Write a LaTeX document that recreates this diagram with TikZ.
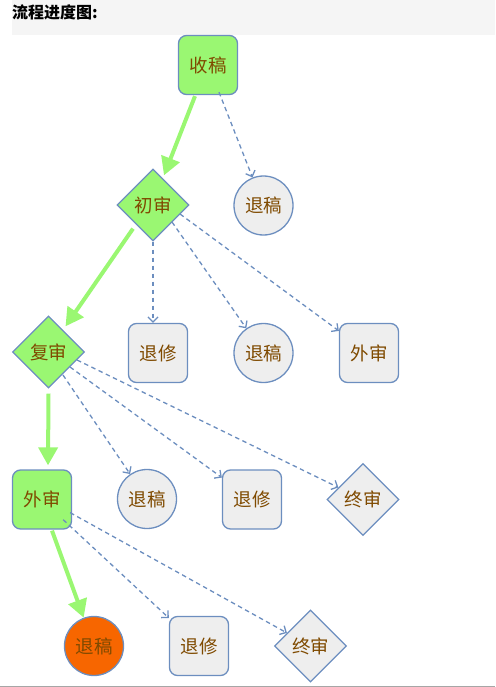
\documentclass[tikz,border=0pt]{standalone}
\usepackage{fontspec}
\newfontfamily\cjk{Noto Sans CJK SC}
\usetikzlibrary{shapes.geometric,arrows.meta,calc}
\definecolor{gfill}{HTML}{9AF772}
\definecolor{bstroke}{HTML}{6C8EBF}
\definecolor{grayfill}{HTML}{EEEEEE}
\definecolor{ofill}{HTML}{F76600}
\definecolor{tcol}{HTML}{7F4A00}
\definecolor{hdr}{HTML}{F5F5F5}
\begin{document}
\begin{tikzpicture}[x=1pt,y=-1pt,
  base/.style={draw=bstroke,line width=1.3pt,text=tcol,font=\cjk\fontsize{18.5}{18.5}\selectfont,inner sep=0pt},
  gbox/.style={base,fill=gfill,rounded corners=8pt,minimum width=59pt,minimum height=59pt},
  xbox/.style={base,fill=grayfill,rounded corners=8pt,minimum width=59pt,minimum height=59pt},
  circ/.style={base,fill=grayfill,circle,minimum size=59pt},
  ocirc/.style={base,fill=ofill,circle,minimum size=59pt},
  gdia/.style={base,fill=gfill,diamond,minimum width=72pt,minimum height=72pt},
  xdia/.style={base,fill=grayfill,diamond,minimum width=72pt,minimum height=72pt},
  garrow/.style={draw=gfill,line width=4pt,-{Triangle[length=18pt,width=19pt]}},
  darrow/.style={draw=bstroke,line width=1.3pt,dash pattern=on 4.5pt off 3.5pt,-{Straight Barb[length=5pt,width=10pt]}}]
\useasboundingbox (0,0) rectangle (495,687);
\fill[hdr] (12,0) rectangle (495,35);
\draw[gray!70,line width=1pt] (0,686) -- (495,686);
\node[anchor=north west,inner sep=0pt,font=\cjk\bfseries\fontsize{16}{16}\selectfont] (title) at (12,4) {流程进度图:};

\node[gbox] (shou) at (208,65) {收稿};
\node[gdia] (chu) at (153,205) {初审};
\node[circ] (tui1) at (263.5,205.5) {退稿};
\node[gdia] (fu) at (48.5,352) {复审};
\node[xbox] (xiu1) at (158,353) {退修};
\node[circ] (tui2) at (263.5,353) {退稿};
\node[xbox] (wai1) at (369,353) {外审};
\node[gbox] (wai2) at (42,499.5) {外审};
\node[circ] (tui3) at (147,499) {退稿};
\node[xbox] (xiu2) at (252,499.5) {退修};
\node[xdia] (zhong1) at (363,499.5) {终审};
\node[ocirc] (tui4) at (94,646) {退稿};
\node[xbox] (xiu3) at (199,646) {退修};
\node[xdia] (zhong2) at (310.5,646) {终审};

\draw[garrow] ($(shou.south)+(-13,1)$) -- ($(chu.north)+(11,7)$);
\draw[garrow] ($(chu.south)+(-20,-13)$) -- ($(fu.north)+(17,11)$);
\draw[garrow] ($(fu.south)+(0,5)$) -- ($(wai2.north)+(6,-4)$);
\draw[garrow] ($(wai2.south)+(10,1)$) -- (tui4);

\draw[darrow] ($(shou.south)+(11,-3)$) -- (tui1);
\draw[darrow] (chu.south) -- (chu.south |- xiu1.north);
\draw[darrow] (172,222) -- (tui2);
\draw[darrow] (180,214) -- (wai1);
\draw[darrow] (63,375) -- (tui3);
\draw[darrow] (70,367) -- (xiu2);
\draw[darrow] (77,360) -- (zhong1);
\draw[darrow] ($(wai2.south east)+(-9,-10)$) -- (xiu3);
\draw[darrow] ($(wai2.south east)+(-2,-17)$) -- (zhong2);
\end{tikzpicture}
\end{document}
